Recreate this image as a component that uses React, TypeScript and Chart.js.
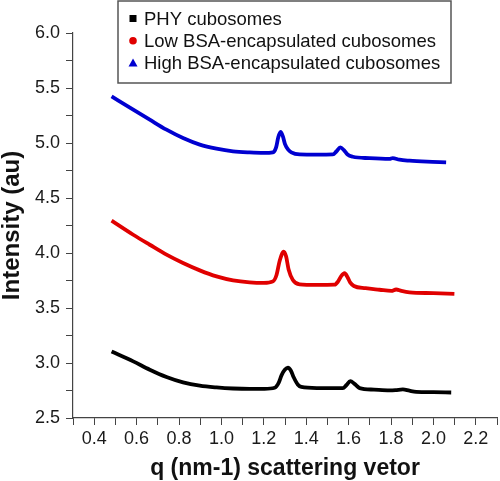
import React, { useEffect, useRef } from "react";
import { Chart, registerables } from "chart.js";
Chart.register(...registerables);

const FONT = "'Liberation Sans', Arial, sans-serif";

const seriesLabels = [
  "PHY cubosomes",
  "Low BSA-encapsulated cubosomes",
  "High BSA-encapsulated cubosomes",
];
const seriesColors = ["#000000", "#e00000", "#0000d0"];
const markerShapes = ["square", "circle", "triangle"];

const qPHY = [0.482, 0.584, 0.662, 0.741, 0.819, 0.898, 0.977, 1.055, 1.133, 1.2, 1.251, 1.27, 1.284, 1.3, 1.314, 1.328, 1.341, 1.36, 1.377, 1.45, 1.573, 1.59, 1.608, 1.628, 1.652, 1.72, 1.793, 1.821, 1.856, 1.887, 1.919, 2.0, 2.084];
const iPHY = [3.105, 3.015, 2.939, 2.873, 2.824, 2.794, 2.778, 2.768, 2.764, 2.765, 2.775, 2.82, 2.89, 2.94, 2.957, 2.93, 2.87, 2.805, 2.782, 2.772, 2.772, 2.8, 2.835, 2.81, 2.772, 2.758, 2.751, 2.753, 2.76, 2.748, 2.738, 2.735, 2.732];

const qLow = [0.482, 0.584, 0.662, 0.741, 0.819, 0.898, 0.977, 1.055, 1.133, 1.2, 1.243, 1.26, 1.275, 1.294, 1.305, 1.317, 1.337, 1.369, 1.45, 1.534, 1.55, 1.565, 1.581, 1.595, 1.608, 1.625, 1.68, 1.746, 1.802, 1.824, 1.849, 1.887, 2.0, 2.099];
const iLow = [4.294, 4.166, 4.075, 3.985, 3.909, 3.842, 3.787, 3.751, 3.733, 3.728, 3.742, 3.8, 3.93, 4.012, 3.97, 3.85, 3.755, 3.715, 3.71, 3.712, 3.74, 3.79, 3.816, 3.78, 3.73, 3.7, 3.68, 3.666, 3.655, 3.668, 3.655, 3.642, 3.635, 3.628];

const qHigh = [0.482, 0.584, 0.662, 0.741, 0.819, 0.898, 0.977, 1.055, 1.133, 1.2, 1.243, 1.258, 1.268, 1.279, 1.29, 1.3, 1.315, 1.33, 1.369, 1.45, 1.526, 1.543, 1.561, 1.578, 1.595, 1.62, 1.699, 1.793, 1.808, 1.84, 1.887, 1.97, 2.06];
const iHigh = [5.424, 5.303, 5.212, 5.121, 5.045, 4.985, 4.948, 4.924, 4.914, 4.91, 4.915, 4.96, 5.05, 5.1, 5.06, 4.99, 4.94, 4.915, 4.896, 4.894, 4.896, 4.925, 4.96, 4.935, 4.895, 4.875, 4.862, 4.855, 4.863, 4.848, 4.839, 4.83, 4.824];

const xMin = 0.3, xMax = 2.3, xStep = 0.1;
const yMin = 2.5, yMax = 6.0, yStep = 0.25;
const xTitle = "q (nm-1) scattering vetor";
const yTitle = "Intensity (au)";

const legendPlugin = {
  id: "boxLegend",
  afterDraw(chart: any) {
    const ctx = chart.ctx;
    const left = 118, top = 1, w = 333, h = 82;
    ctx.save();
    ctx.fillStyle = "#ffffff";
    ctx.fillRect(left, top, w, h);
    ctx.strokeStyle = "#555555";
    ctx.lineWidth = 1.5;
    ctx.strokeRect(left, top, w, h);
    ctx.font = `18.5px ${FONT}`;
    ctx.textBaseline = "middle";
    ctx.textAlign = "left";
    chart.data.datasets.forEach((ds: any, i: number) => {
      const cy = top + 17.5 + i * 22.3;
      const mx = 133;
      ctx.fillStyle = ds.borderColor;
      const shape = markerShapes[i];
      if (shape === "square") {
        ctx.fillRect(mx - 3.5, cy - 3.5, 7, 7);
      } else if (shape === "circle") {
        ctx.beginPath();
        ctx.arc(mx, cy, 3.8, 0, Math.PI * 2);
        ctx.fill();
      } else {
        ctx.beginPath();
        ctx.moveTo(mx, cy - 4.5);
        ctx.lineTo(mx + 4.5, cy + 3.5);
        ctx.lineTo(mx - 4.5, cy + 3.5);
        ctx.closePath();
        ctx.fill();
      }
      ctx.fillStyle = "#111111";
      ctx.fillText(ds.label, 144, cy + 1);
    });
    ctx.restore();
  },
};

export default function App() {
  const ref = useRef<HTMLCanvasElement>(null);
  useEffect(() => {
    const qs = [qPHY, qLow, qHigh];
    const is = [iPHY, iLow, iHigh];
    const datasets = seriesLabels.map((label, k) => ({
      label,
      data: qs[k].map((q, j) => ({ x: q, y: is[k][j] })),
      borderColor: seriesColors[k],
      backgroundColor: seriesColors[k],
      borderWidth: 3.8,
      pointRadius: 0,
      cubicInterpolationMode: "monotone" as const,
      fill: false,
    }));
    const chart = new Chart(ref.current!, {
      type: "line",
      data: { datasets },
      plugins: [legendPlugin],
      options: {
        animation: false,
        responsive: false,
        maintainAspectRatio: false,
        layout: { padding: { top: 33, right: 2, left: 0, bottom: 0 } },
        plugins: { legend: { display: false }, tooltip: { enabled: false } },
        scales: {
          x: {
            type: "linear",
            min: xMin,
            max: xMax,
            border: { color: "#444444", width: 1.2 },
            grid: { drawOnChartArea: false, drawTicks: true, tickLength: 7, tickColor: "#444444" },
            ticks: {
              stepSize: xStep,
              autoSkip: false,
              maxRotation: 0,
              padding: 3,
              color: "#1a1a1a",
              font: { family: FONT, size: 18 },
              callback: (v: any) => {
                const n = Math.round(Number(v) * 10);
                return n % 2 === 0 ? (n / 10).toFixed(1) : "";
              },
            },
            title: {
              display: true,
              text: xTitle,
              color: "#111111",
              font: { family: FONT, size: 23, weight: "bold", lineHeight: 1.1 },
              padding: { top: 0, bottom: 0 },
            },
            afterFit: (s: any) => { s.height = 63; },
          },
          y: {
            type: "linear",
            min: yMin,
            max: yMax,
            border: { color: "#444444", width: 1.2 },
            grid: { drawOnChartArea: false, drawTicks: true, tickLength: 7, tickColor: "#444444" },
            ticks: {
              stepSize: yStep,
              autoSkip: false,
              padding: 6,
              color: "#1a1a1a",
              font: { family: FONT, size: 18 },
              callback: (v: any) => {
                const n = Math.round(Number(v) * 100);
                return n % 50 === 0 ? (n / 100).toFixed(1) : "";
              },
            },
            title: {
              display: true,
              text: yTitle,
              color: "#111111",
              font: { family: FONT, size: 24, weight: "bold", lineHeight: 1.0 },
              padding: { top: 0, bottom: 0 },
            },
            afterFit: (s: any) => { s.width = 73; },
          },
        },
      },
    });
    return () => chart.destroy();
  }, []);
  return (
    <div style={{ position: "fixed", left: 0, top: 0, width: 500, height: 481, background: "#fff" }}>
      <canvas ref={ref} width={500} height={481} style={{ width: 500, height: 481 }} />
    </div>
  );
}
